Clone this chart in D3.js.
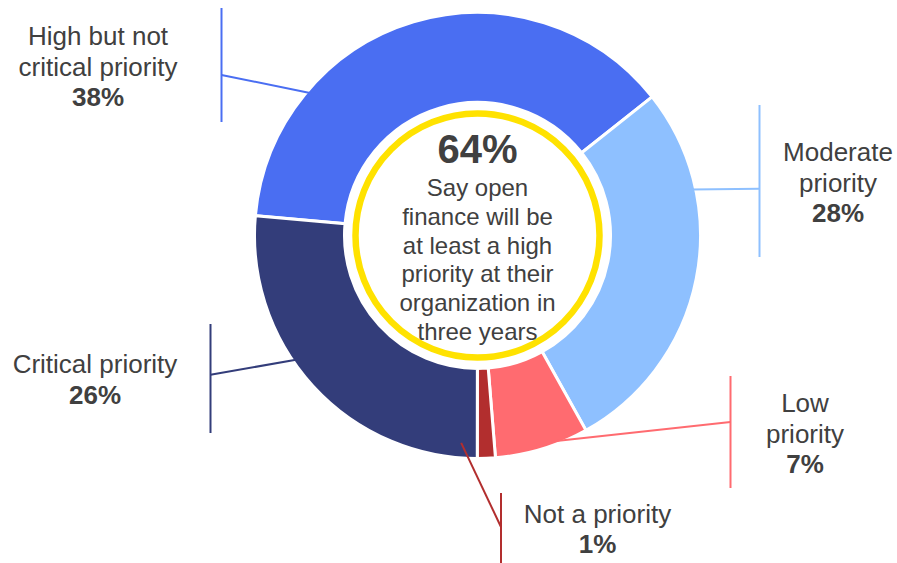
<!DOCTYPE html>
<html>
<head>
<meta charset="utf-8">
<script src="https://cdn.jsdelivr.net/npm/d3@7"></script>
<style>
  html, body { margin: 0; padding: 0; background: #ffffff; }
  svg { display: block; }
  text { font-family: "Liberation Sans", Arial, sans-serif; fill: #404040; }
</style>
</head>
<body>
<svg id="chart" width="897" height="563"></svg>
<script>
// ---- data ----
const categories = ["High but not critical priority", "Moderate priority", "Low priority", "Not a priority", "Critical priority"];
const labelLines = [["High but not", "critical priority"], ["Moderate", "priority"], ["Low", "priority"], ["Not a priority"], ["Critical priority"]];
const values = [37.9, 27.6, 6.8, 1.3, 26.4];
const colors = ["#4a6ef2", "#8ec0ff", "#ff6b70", "#b22e2e", "#333d7a"];
const centerValue = "64%";
const centerLines = ["Say open", "finance will be", "at least a high", "priority at their", "organization in", "three years"];

// ---- layout (annotation geometry) ----
const cx = 477.5, cy = 235.5;
const outerR = 223, innerR = 133;
const startDeg = -84.9;
// anchor: [angle deg, radius] on donut; bar: x, y0, y1; joint y; label center x, first baseline y
const layout = [
  { anchor: [310.4, 220], barX: 221.5, barY0: 8, barY1: 122, jointY: 75, tx: 98, ty: 45 },
  { anchor: [77.9, 219], barX: 759.5, barY0: 105, barY1: 257, jointY: 188.7, tx: 838, ty: 161 },
  { anchor: [160.2, 219], barX: 730.5, barY0: 376, barY1: 488, jointY: 422, tx: 805, ty: 412 },
  { anchor: [184.5, 208], barX: 501, barY0: 493, barY1: 563, jointY: 527, tx: 597.5, ty: 522.5 },
  { anchor: [235.6, 220], barX: 210.5, barY0: 324, barY1: 433, jointY: 374.7, tx: 95, ty: 373.3 }
];

const svg = d3.select("#chart");
const g = svg.append("g").attr("transform", `translate(${cx},${cy})`);

const pie = d3.pie().sort(null).value(d => d)
  .startAngle(startDeg * Math.PI / 180)
  .endAngle(startDeg * Math.PI / 180 + 2 * Math.PI);
const arcs = pie(values);
const arc = d3.arc().innerRadius(innerR).outerRadius(outerR);

g.selectAll("path.slice").data(arcs).enter().append("path")
  .attr("class", "slice")
  .attr("d", arc)
  .attr("fill", (d, i) => colors[i])
  .attr("stroke", "#ffffff")
  .attr("stroke-width", 3)
  .attr("stroke-linejoin", "miter");

// center ring
g.append("circle").attr("r", 122).attr("fill", "#ffffff")
  .attr("stroke", "#ffe200").attr("stroke-width", 6.5);

// center text
g.append("text").attr("x", 0).attr("y", 163 - cy)
  .attr("text-anchor", "middle").attr("font-size", 40).attr("font-weight", "bold")
  .text(centerValue);
centerLines.forEach((t, i) => {
  g.append("text").attr("x", 0).attr("y", 196 - cy + i * 28.8)
    .attr("text-anchor", "middle").attr("font-size", 24).text(t);
});

// leader lines + labels
const fmt = d3.format(".0f");
layout.forEach((L, i) => {
  const a = L.anchor[0] * Math.PI / 180, r = L.anchor[1];
  const px = cx + r * Math.sin(a), py = cy - r * Math.cos(a);
  svg.append("line").attr("x1", L.barX).attr("x2", L.barX).attr("y1", L.barY0).attr("y2", L.barY1)
    .attr("stroke", colors[i]).attr("stroke-width", 2);
  svg.append("line").attr("x1", L.barX).attr("y1", L.jointY).attr("x2", px).attr("y2", py)
    .attr("stroke", colors[i]).attr("stroke-width", 2);
  const lines = labelLines[i];
  lines.forEach((t, j) => {
    svg.append("text").attr("x", L.tx).attr("y", L.ty + j * 30.5)
      .attr("text-anchor", "middle").attr("font-size", 26).text(t);
  });
  svg.append("text").attr("x", L.tx).attr("y", L.ty + lines.length * 30.5)
    .attr("text-anchor", "middle").attr("font-size", 26).attr("font-weight", "bold")
    .text(fmt(values[i]) + "%");
});
</script>
</body>
</html>
